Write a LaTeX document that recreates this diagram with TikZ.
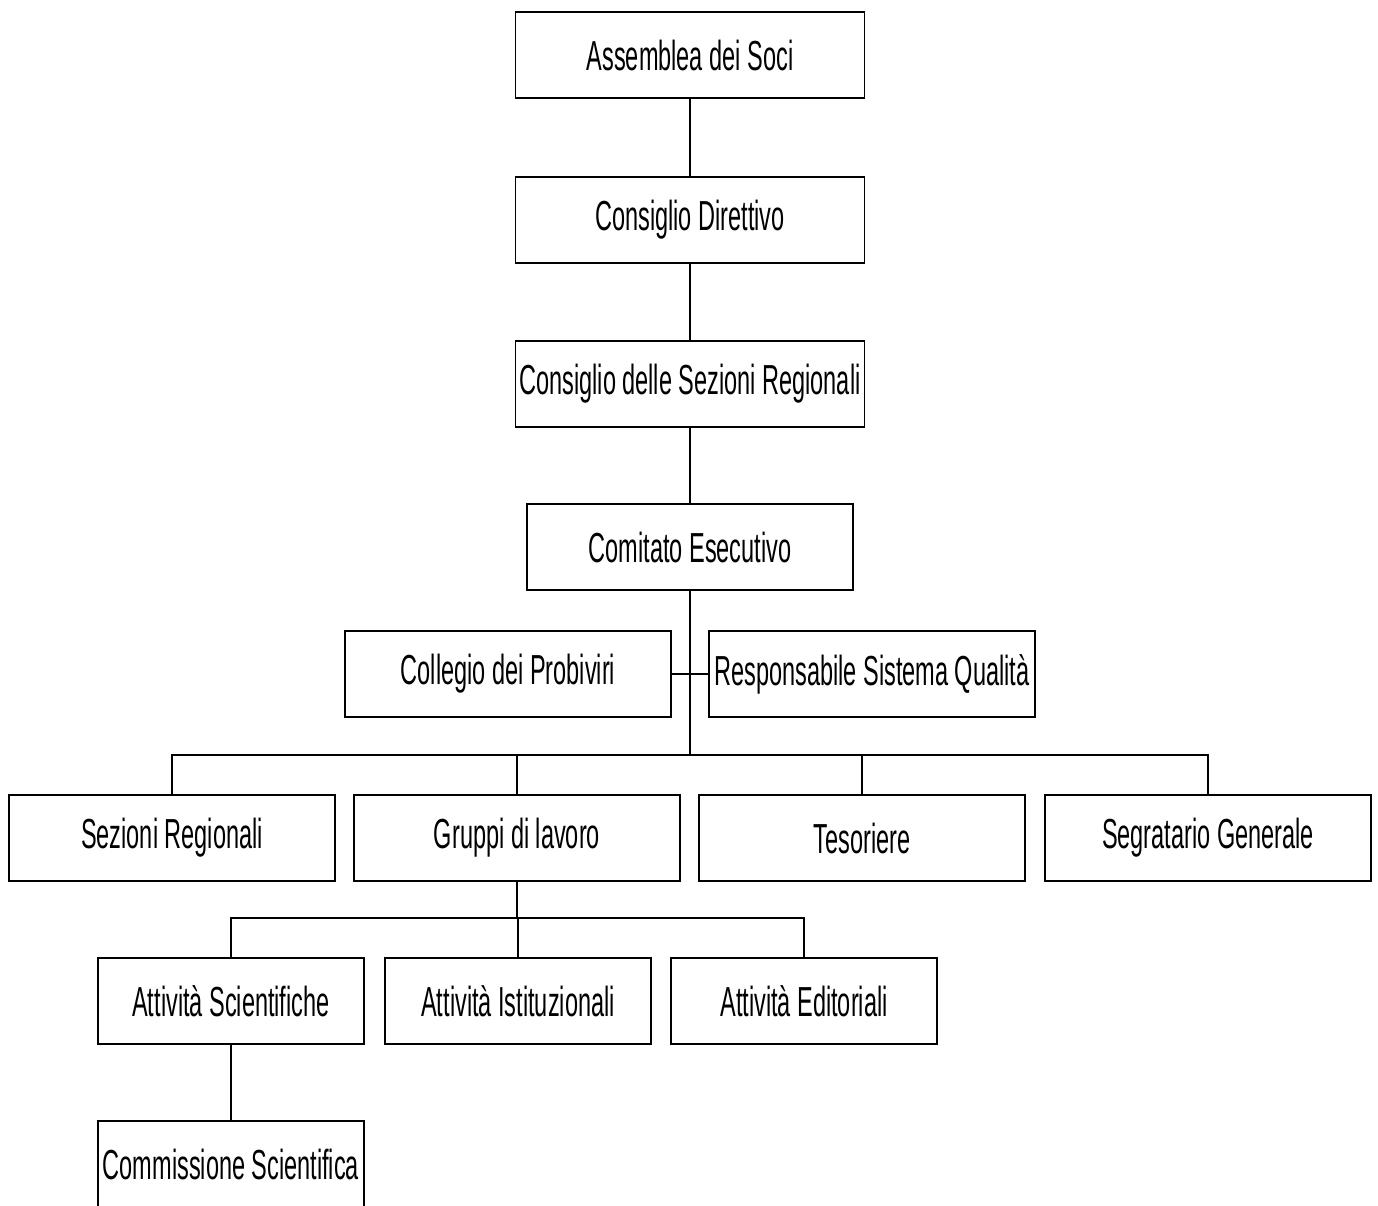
\documentclass[tikz,border=0pt]{standalone}
\usepackage{fontspec}
\setmainfont[FakeStretch=0.56]{Liberation Sans}
\begin{document}
\begin{tikzpicture}[x=1pt, y=-1pt,
		box/.style={draw, line width=1.8pt, inner sep=0pt, align=center,
			minimum height=86pt, font=\fontsize{42}{48}\selectfont},
		largo/.style={box, minimum width=349pt},
		medio/.style={box, minimum width=326pt},
		stretto/.style={box, minimum width=266pt},
		linea/.style={line width=1.8pt}]
		\useasboundingbox (0, 0) rectangle (1378, 1205);
		% vertici
		\node[largo] (assemblea) at (690, 55) {Assemblea dei Soci};
		\node[largo] (direttivo) at (690, 220) {Consiglio Direttivo};
		\node[largo] (sezcons) at (690, 384) {Consiglio delle Sezioni Regionali};
		\node[medio] (comitato) at (690, 547) {Comitato Esecutivo};
		\node[medio] (collegio) at (508, 674) {Collegio dei Probiviri};
		\node[medio] (qualita) at (872, 674) {Responsabile Sistema Qualità};
		% secondo livello
		\node[medio] (sezioni) at (172, 838) {Sezioni Regionali};
		\node[medio] (gruppi) at (517, 838) {Gruppi di lavoro};
		\node[medio] (tesoriere) at (862, 838) {Tesoriere};
		\node[medio] (segretario) at (1208, 838) {Segratario Generale};
		% attivita
		\node[stretto] (scientifiche) at (231, 1001) {Attività Scientifiche};
		\node[stretto] (istituzionali) at (518, 1001) {Attività Istituzionali};
		\node[stretto] (editoriali) at (804, 1001) {Attività Editoriali};
		\node[stretto] (commissione) at (231, 1164) {Commissione Scientifica};
		% collegamenti
		\coordinate (snodo) at (690, 755);
		\coordinate (snodogruppi) at (517, 918);
		\draw[linea] (assemblea) -- (direttivo);
		\draw[linea] (direttivo) -- (sezcons);
		\draw[linea] (sezcons) -- (comitato);
		\draw[linea] (comitato) -- (snodo);
		\draw[linea] (collegio) -- (qualita);
		\draw[linea] (snodo) -| (sezioni.north);
		\draw[linea] (snodo) -| (gruppi.north);
		\draw[linea] (snodo) -| (tesoriere.north);
		\draw[linea] (snodo) -| (segretario.north);
		\draw[linea] (gruppi) -- (snodogruppi);
		\draw[linea] (snodogruppi) -| (scientifiche.north);
		\draw[linea] (snodogruppi) -| (istituzionali.north);
		\draw[linea] (snodogruppi) -| (editoriali.north);
		\draw[linea] (scientifiche) -- (commissione);
	\end{tikzpicture}
\end{document}
